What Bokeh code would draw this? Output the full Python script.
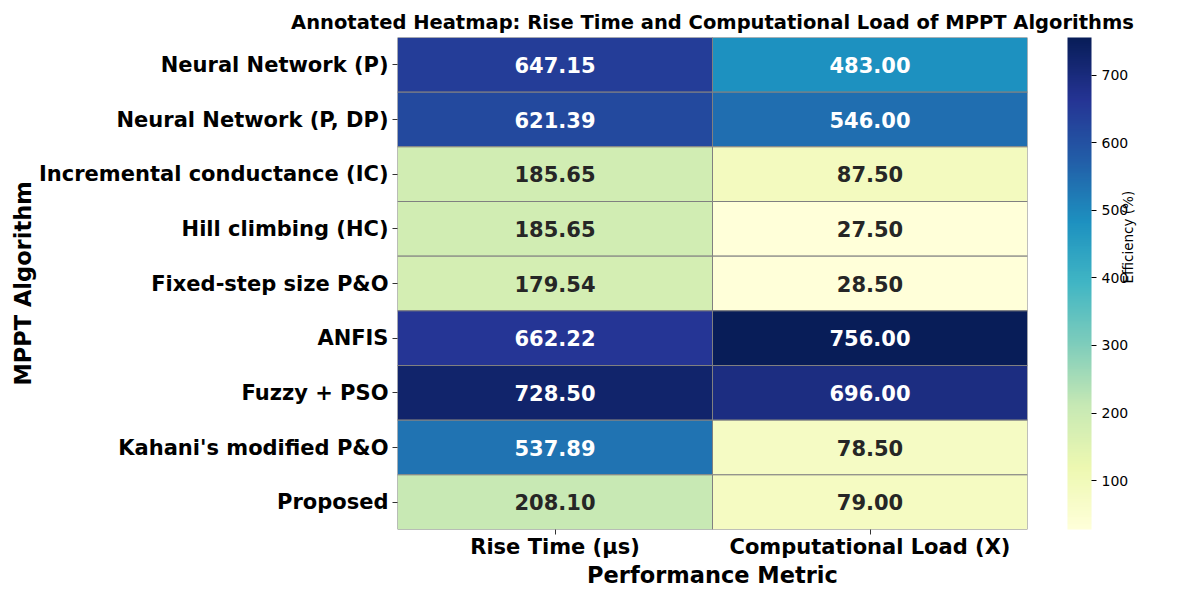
import numpy as np
from bokeh.plotting import figure
from bokeh.models import (ColumnDataSource, LinearColorMapper, ColorBar, FixedTicker,
                          CategoricalAxis, FactorRange)
from bokeh.core.properties import value
from bokeh.embed import file_html
from bokeh.resources import INLINE

algorithms = ["Neural Network (P)", "Neural Network (P, DP)", "Incremental conductance (IC)",
              "Hill climbing (HC)", "Fixed-step size P&O", "ANFIS", "Fuzzy + PSO",
              "Kahani's modified P&O", "Proposed"]
metrics = ["Rise Time (µs)", "Computational Load (X)"]
rise_time = [647.15, 621.39, 185.65, 185.65, 179.54, 662.22, 728.50, 537.89, 208.10]
comp_load = [483.00, 546.00, 87.50, 27.50, 28.50, 756.00, 696.00, 78.50, 79.00]
cbar_ticks = [100, 200, 300, 400, 500, 600, 700]

# YlGnBu (matplotlib) anchors, interpolated to 256
anchors = ["#ffffd9", "#edf8b1", "#c7e9b4", "#7fcdbb", "#41b6c4", "#1d91c0", "#225ea8", "#253494", "#081d58"]
def h2rgb(h):
    return np.array([int(h[i:i + 2], 16) for i in (1, 3, 5)], dtype=float) / 255.0
anc = np.array([h2rgb(h) for h in anchors])
pos = np.linspace(0, 1, len(anchors))
t = np.linspace(0, 1, 256)
rgb = np.stack([np.interp(t, pos, anc[:, k]) for k in range(3)], axis=1)
palette = ["#%02x%02x%02x" % tuple(int(round(c * 255)) for c in row) for row in rgb]

vmin = min(rise_time + comp_load)
vmax = max(rise_time + comp_load)

def lum(c):
    c = np.where(c <= 0.03928, c / 12.92, ((c + 0.055) / 1.055) ** 2.4)
    return 0.2126 * c[0] + 0.7152 * c[1] + 0.0722 * c[2]

xs, ys, vals, labels, tcolors, fills = [], [], [], [], [], []
for i, a in enumerate(algorithms):
    for m, v in zip(metrics, (rise_time[i], comp_load[i])):
        xs.append(m); ys.append(a); vals.append(v); labels.append("%.2f" % v)
        idx = int(np.clip((v - vmin) / (vmax - vmin) * 255, 0, 255))
        fills.append(palette[idx])
        tcolors.append("#262626" if lum(rgb[idx]) > 0.408 else "#ffffff")

src = ColumnDataSource(dict(x=xs, y=ys, v=vals, label=labels, tc=tcolors, fill=fills))

W, H = 1184, 584
p = figure(x_range=FactorRange(*metrics), y_range=FactorRange(*algorithms[::-1]),
           frame_width=630, frame_height=492, output_backend="svg", toolbar_location=None,
           min_border_left=397, min_border_right=20, min_border_top=37, min_border_bottom=55)
p.width = W
p.height = H
p.rect(x="x", y="y", width=1, height=1, source=src, fill_color="fill",
       line_color="gray", line_width=1)
p.text(x="x", y="y", text="label", source=src, text_color="tc", text_align="center",
       text_baseline="middle", text_font=value("DejaVu Sans"), text_font_style="bold",
       text_font_size="21px")

p.title.text = "Annotated Heatmap: Rise Time and Computational Load of MPPT Algorithms"
p.title.align = "center"
p.title.text_font = "DejaVu Sans"
p.title.text_font_size = "19.5px"
p.title.text_font_style = "bold"
p.title.text_color = "black"
p.title.standoff = 7

for ax in (p.xaxis[0], p.yaxis[0]):
    ax.axis_line_color = None
    ax.major_tick_line_color = "#333333"
    ax.major_tick_out = 5
    ax.major_tick_in = 0
    ax.minor_tick_line_color = None
    ax.major_label_text_font = "DejaVu Sans"
    ax.major_label_text_font_style = "bold"
    ax.major_label_text_font_size = "21px"
    ax.major_label_text_color = "black"
    ax.axis_label_text_font = "DejaVu Sans"
    ax.axis_label_text_font_style = "bold"
    ax.axis_label_text_font_size = "22.5px"
    ax.axis_label_text_color = "black"
p.xaxis.axis_label = "Performance Metric"
p.yaxis.axis_label = "MPPT Algorithm"
p.xaxis.major_label_standoff = 0
p.yaxis.major_label_standoff = 4
p.xaxis.axis_label_standoff = 0
p.yaxis.axis_label_standoff = 0
p.xgrid.grid_line_color = None
p.ygrid.grid_line_color = None
p.outline_line_color = None
p.x_range.range_padding = 0
p.y_range.range_padding = 0

mapper = LinearColorMapper(palette=palette, low=vmin, high=vmax)
cb = ColorBar(color_mapper=mapper, ticker=FixedTicker(ticks=cbar_ticks), width=24, height=492,
              padding=0, margin=0, location=(40, 0), bar_line_color=None,
              background_fill_color=None, border_line_color=None,
              major_tick_line_color="black", major_tick_in=0, major_tick_out=5,
              minor_tick_line_color=None, major_label_text_font="DejaVu Sans",
              major_label_text_font_size="14px", major_label_text_color="black",
              label_standoff=5)
p.add_layout(cb, "right")

cb_axis = CategoricalAxis(axis_line_color=None,
                          major_tick_line_color=None, minor_tick_line_color=None,
                          major_tick_in=0, major_tick_out=0,
                          major_label_text_font_size="0px", major_label_standoff=0,
                          axis_label="Efficiency (%)",
                          axis_label_text_font="DejaVu Sans", axis_label_text_font_size="13.5px",
                          axis_label_text_font_style="normal", axis_label_text_color="black",
                          axis_label_standoff=-4)
try:
    cb_axis.axis_label_orientation = np.pi / 2
except Exception:
    pass
p.add_layout(cb_axis, "right")

open("out.html", "w").write(file_html(p, INLINE))
